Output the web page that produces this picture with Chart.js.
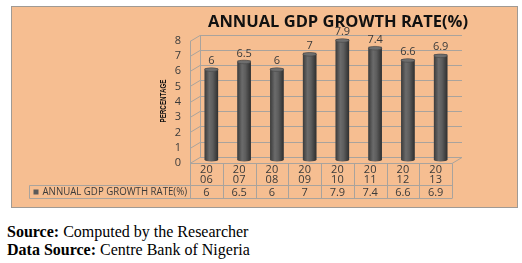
<!DOCTYPE html>
<html>
<head>
<meta charset="utf-8">
<script src="https://cdn.jsdelivr.net/npm/chart.js@4"></script>
<style>
  html, body { margin: 0; padding: 0; background: #fff; }
  body { width: 522px; height: 263px; position: relative; overflow: hidden; }
  #box {
    position: absolute; left: 11px; top: 6px;
    width: 505px; height: 200px;
    background: #f6be91; border: 1px solid #a09a94;
  }
  #box canvas { display: block; }
  .src {
    position: absolute; left: 7px;
    font-family: "Liberation Serif", "DejaVu Serif", serif;
    font-size: 16px; line-height: 18px; color: #000; white-space: nowrap;
  }
</style>
</head>
<body>
<div id="box"><canvas id="c" width="505" height="200"></canvas></div>
<div class="src" style="top:223px"><b>Source:</b> Computed by the Researcher</div>
<div class="src" style="top:241px"><b>Data Source:</b> Centre Bank of Nigeria</div>
<script>
// years split in two lines like the original table header
const years = [["20", "06"], ["20", "07"], ["20", "08"], ["20", "09"], ["20", "10"], ["20", "11"], ["20", "12"], ["20", "13"]]
const growth = [6, 6.5, 6, 7, 7.9, 7.4, 6.6, 6.9]
const yTicks = [0, 1, 2, 3, 4, 5, 6, 7, 8]
const seriesName = "ANNUAL GDP GROWTH RATE(%)"
const chartTitle = "ANNUAL GDP GROWTH RATE(%)"
const yTitle = "PERCENTAGE"

const gridColor = "#a9a39d"
const textColor = "#3a3a3a"
const sans = "'Open Sans', sans-serif"
const DX = 5, DY = 3 // fake depth of the 3D walls

// back wall, side wall and floor, drawn behind the bars
const walls = {
  id: "walls",
  beforeDatasetsDraw(chart) {
    const { ctx, chartArea: a, scales: { y } } = chart
    ctx.save()
    ctx.strokeStyle = gridColor
    ctx.lineWidth = 1
    const L = Math.round(a.left), R = Math.round(a.right)
    yTicks.forEach(v => {
      const yb = Math.round(y.getPixelForValue(v) - DY) + 0.5
      const yf = yb + 2 * DY
      ctx.beginPath()
      ctx.moveTo(L - DX, yf)
      ctx.lineTo(L + DX, yb)
      ctx.lineTo(R + DX, yb)
      ctx.stroke()
    })
    const top = Math.round(y.getPixelForValue(8)), bot = Math.round(y.getPixelForValue(0))
    ctx.beginPath()
    ctx.moveTo(L - DX + 0.5, top + DY); ctx.lineTo(L - DX + 0.5, bot + DY)
    ctx.moveTo(L + DX + 0.5, top - DY); ctx.lineTo(L + DX + 0.5, bot - DY)
    ctx.moveTo(R - DX, bot + DY + 0.5); ctx.lineTo(R + DX, bot - DY + 0.5)
    ctx.stroke()

    // y tick labels on the front edge
    ctx.fillStyle = textColor
    ctx.font = "11px " + sans
    ctx.textAlign = "center"
    ctx.textBaseline = "middle"
    yTicks.forEach(v => ctx.fillText(String(v), L - DX - 12, y.getPixelForValue(v) + DY))

    // rotated axis title
    ctx.save()
    ctx.translate(L - DX - 26, (top + bot) / 2 + 2)
    ctx.rotate(-Math.PI / 2)
    ctx.font = "bold 8.5px 'Liberation Sans', sans-serif"
    ctx.fillStyle = "#111"
    ctx.fillText(yTitle, 0, 0, 43)
    ctx.restore()

    // chart title
    ctx.font = "bold 16.5px " + sans
    ctx.fillStyle = "#111"
    ctx.fillText(chartTitle, 326, 15)
    ctx.restore()
  }
}

// cylinder shading, value labels and the data table
const finish = {
  id: "finish",
  afterDatasetsDraw(chart) {
    const { ctx, chartArea: a, scales: { x, y } } = chart
    const meta = chart.getDatasetMeta(0)
    ctx.save()
    meta.data.forEach((el, i) => {
      const w = el.width, l = el.x - w / 2
      const g = ctx.createLinearGradient(l, 0, l + w, 0)
      g.addColorStop(0, "#3b3b3b")
      g.addColorStop(0.35, "#6b6b6b")
      g.addColorStop(0.6, "#5d5d5d")
      g.addColorStop(1, "#2f2f2f")
      ctx.fillStyle = g
      ctx.fillRect(l, el.y + 1.5, w, el.base - el.y - 1.5)
      ctx.beginPath()
      ctx.ellipse(el.x, el.base, w / 2, 1.5, 0, 0, Math.PI)
      ctx.fill()
      ctx.beginPath()
      ctx.ellipse(el.x, el.y + 1.5, w / 2, 1.8, 0, 0, Math.PI * 2)
      ctx.fillStyle = "#6e6e6e"
      ctx.fill()
      ctx.strokeStyle = "#444"
      ctx.lineWidth = 0.6
      ctx.stroke()

      ctx.fillStyle = textColor
      ctx.font = "11px " + sans
      ctx.textAlign = "center"
      ctx.textBaseline = "middle"
      ctx.fillText(String(growth[i]), el.x, el.y - 7)
    })

    // table under the floor
    const step = (a.right - a.left) / years.length
    const L = Math.round(a.left) - DX, R = Math.round(a.right) - DX
    const t0 = Math.round(y.getPixelForValue(0)) + DY + 0.5
    const t1 = t0 + 22, t2 = t1 + 13
    const legL = 17.5
    ctx.strokeStyle = gridColor
    ctx.lineWidth = 1
    ctx.beginPath()
    ctx.moveTo(L, t0); ctx.lineTo(R, t0)
    ctx.moveTo(legL, t1); ctx.lineTo(R, t1)
    ctx.moveTo(legL, t2); ctx.lineTo(R, t2)
    ctx.moveTo(legL, t1); ctx.lineTo(legL, t2)
    for (let i = 0; i <= years.length; i++) {
      const cx = Math.round(L + i * step) + 0.5
      ctx.moveTo(cx, t0); ctx.lineTo(cx, t2)
    }
    ctx.stroke()

    ctx.fillStyle = textColor
    ctx.font = "11px " + sans
    ctx.textAlign = "center"
    ctx.textBaseline = "middle"
    years.forEach((yr, i) => {
      const cx = x.getPixelForValue(i) - DX
      ctx.fillText(yr[0], cx, t0 + 6.5)
      ctx.fillText(yr[1], cx, t0 + 16.5)
      ctx.fillText(String(growth[i]), cx, t1 + 7)
    })
    ctx.fillStyle = "#5a5a5a"
    ctx.fillRect(legL + 4, t1 + 4, 5, 5)
    ctx.fillStyle = textColor
    ctx.textAlign = "left"
    ctx.font = "10px " + sans
    ctx.fillText(seriesName, legL + 13, t1 + 7, L - legL - 16)
    ctx.restore()
  }
}

new Chart(document.getElementById("c"), {
  type: "bar",
  data: {
    labels: years,
    datasets: [{
      label: seriesName,
      data: growth,
      backgroundColor: "#555555",
      barPercentage: 0.41,
      categoryPercentage: 1
    }]
  },
  options: {
    responsive: false,
    animation: false,
    devicePixelRatio: 1,
    layout: { padding: { left: 183, right: 60, top: 30.5, bottom: 47 } },
    plugins: { legend: { display: false }, title: { display: false }, tooltip: { enabled: false } },
    scales: {
      x: { display: false },
      y: { display: false, min: 0, max: 8 }
    }
  },
  plugins: [walls, finish]
})
</script>
</body>
</html>
